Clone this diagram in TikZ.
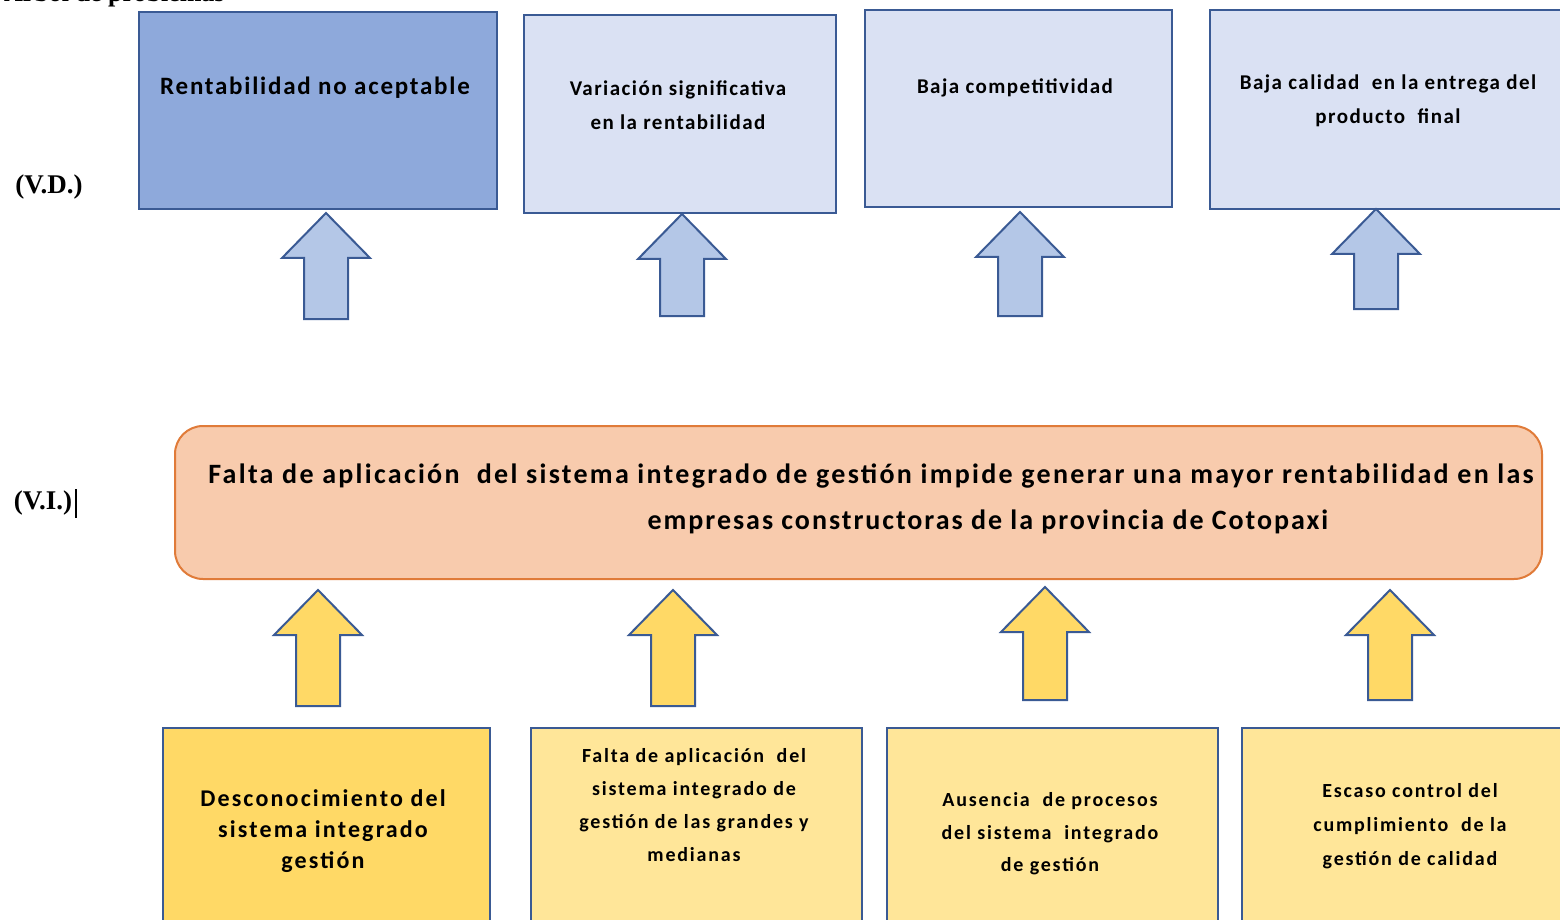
\documentclass[tikz,border=0pt]{standalone}
\usepackage{fontspec}
\setmainfont{Carlito}
\newfontfamily\serifb{Liberation Serif}
\definecolor{bdark}{HTML}{8EA9DB}
\definecolor{blight}{HTML}{DAE1F3}
\definecolor{bline}{HTML}{3A5A94}
\definecolor{barrow}{HTML}{B4C7E7}
\definecolor{ydark}{HTML}{FFD966}
\definecolor{ylight}{HTML}{FFE699}
\definecolor{ofill}{HTML}{F8CBAD}
\definecolor{oline}{HTML}{E07B39}
\newcommand\uparr[4]{\draw[#4] (#1,#2) -- (#1+44,#2+45) -- (#1+22,#2+45) -- (#1+22,#3) -- (#1-22,#3) -- (#1-22,#2+45) -- (#1-44,#2+45) -- cycle;}
\newcommand\lsA{\addfontfeatures{LetterSpace=7}}
\newcommand\lsB{\addfontfeatures{LetterSpace=9}}
\newcommand\lsC{\addfontfeatures{LetterSpace=8.2}}
\begin{document}
\begin{tikzpicture}[x=0.5pt,y=-0.5pt,
  box/.style={draw=bline,line width=1pt},
  arr/.style={draw=bline,line width=1pt,line join=miter},
  lbl/.style={inner sep=0pt,align=center,font=\bfseries}]
\useasboundingbox (0,0) rectangle (1560,920);
% cut title
\node[anchor=base east,inner sep=0pt,font=\serifb\bfseries\fontsize{13}{15}\selectfont] (title) at (225,1.5) {Árbol de problemas};
% top boxes
\draw[box,fill=bdark] (139,12) rectangle (497,209);
\draw[box,fill=blight] (524,15) rectangle (836,213);
\draw[box,fill=blight] (865,10) rectangle (1172,207);
\draw[box,fill=blight] (1210,10) rectangle (1575,209);
\node[lbl,font=\bfseries\fontsize{12.5}{15}\selectfont\lsA] (e1) at (315,88) {Rentabilidad no aceptable};
\node[lbl,font=\bfseries\fontsize{10.5}{17}\selectfont\lsA] (e2) at (678,105) {Variación significativa\\en la rentabilidad};
\node[lbl,font=\bfseries\fontsize{10.5}{17}\selectfont\lsA] (e3) at (1015,88) {Baja competitividad};
\node[lbl,font=\bfseries\fontsize{10.5}{17}\selectfont\lsA] (e4) at (1388,101) {Baja calidad\ \ en la entrega del\\producto\ \ final};
% labels
\node[inner sep=0pt,font=\serifb\bfseries\fontsize{13.5}{15}\selectfont] (vd) at (49,187) {(V.D.)};
\node[inner sep=0pt,font=\serifb\bfseries\fontsize{13.5}{15}\selectfont] (vi) at (43,503) {(V.I.)};
\draw[line width=0.8pt] (76,489) -- (76,518);
% top arrows
\uparr{326}{213}{319}{arr,fill=barrow}
\uparr{682}{214}{316}{arr,fill=barrow}
\uparr{1020}{212}{316}{arr,fill=barrow}
\uparr{1376}{209}{309}{arr,fill=barrow}
% main problem
\draw[draw=oline,line width=1pt,fill=ofill,rounded corners=14pt] (175,426) rectangle (1542,579);
\node[lbl,font=\bfseries\fontsize{14}{17}\selectfont\lsC] (p1) at (871,476) {Falta de aplicación\ \ del sistema integrado de gestión impide generar una mayor rentabilidad en las};
\node[lbl,font=\bfseries\fontsize{14}{17}\selectfont\lsA] (p2) at (988,522) {empresas constructoras de la provincia de Cotopaxi};
% bottom arrows
\uparr{318}{590}{706}{arr,fill=ydark}
\uparr{673}{590}{706}{arr,fill=ydark}
\uparr{1045}{587}{700}{arr,fill=ydark}
\uparr{1390}{590}{700}{arr,fill=ydark}
% bottom boxes
\draw[box,fill=ydark] (163,728) rectangle (490,935);
\draw[box,fill=ylight] (531,728) rectangle (862,935);
\draw[box,fill=ylight] (887,728) rectangle (1218,935);
\draw[box,fill=ylight] (1242,728) rectangle (1575,935);
\node[lbl,font=\bfseries\fontsize{12}{15.5}\selectfont\lsB] (c1) at (323,831) {Desconocimiento del\\sistema integrado\\gestión};
\node[lbl,font=\bfseries\fontsize{10}{16.5}\selectfont\lsB] (c2) at (694,805) {Falta de aplicación\ \ del\\sistema integrado de\\gestión de las grandes y\\medianas};
\node[lbl,font=\bfseries\fontsize{10}{16.3}\selectfont\lsB] (c3) at (1050,834) {Ausencia\ \ de procesos\\del sistema\ \ integrado\\de gestión};
\node[lbl,font=\bfseries\fontsize{10}{17}\selectfont\lsB] (c4) at (1410,826) {Escaso control\ del\\cumplimiento\ \ de la\\gestión de calidad};
\end{tikzpicture}
\end{document}
